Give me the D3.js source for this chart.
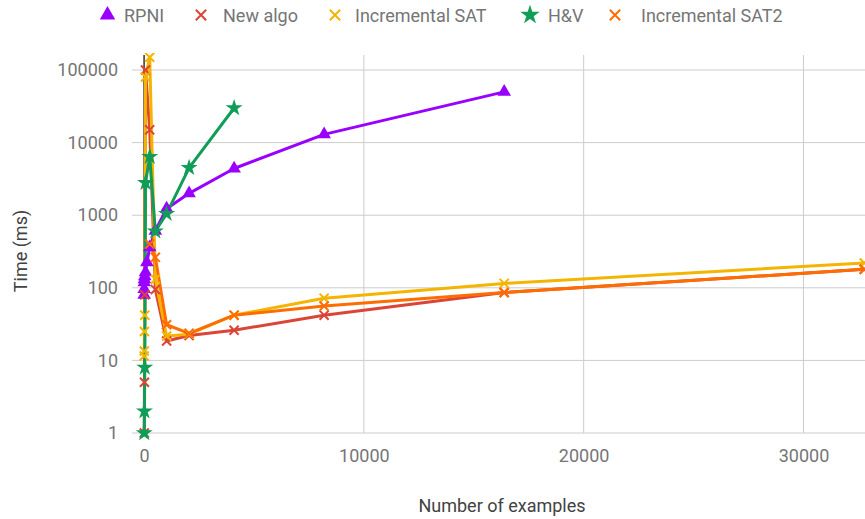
<!DOCTYPE html>
<html>
<head>
<meta charset="utf-8">
<script src="https://cdn.jsdelivr.net/npm/d3@7"></script>
<style>
  html, body { margin: 0; padding: 0; background: #fff; }
  svg { display: block; font-family: Roboto, "Noto Sans", sans-serif; }
</style>
</head>
<body>
<svg id="chart" width="865" height="519"></svg>
<script>
// Number of examples (shared x values for every series)
const examples = [1, 2, 4, 8, 16, 32, 64, 128, 256, 512, 1024, 2048, 4096, 8192, 16384, 32768];

// Time in ms per algorithm; null = no measurement at that size
const rpni         = [null, 80, 96, 119, 131, 144, 163, 224, 361, 610, 1230, 2000, 4400, 13000, 50000, null];
const newAlgo      = [null, null, null, 1, 5, 80, 100000, null, 15000, 95, 18.5, 22, 26, 42, 86, 180];
const incSat       = [null, null, 11.5, 13.5, 25, 42, 80000, null, 150000, 131, 21.7, 23, 42, 72, 115, 220];
const hv           = [null, null, null, 1, 2, 8, 2800, null, 6400, 600, 1050, 4500, 30000, null, null, null];
const incSat2      = [null, null, null, null, null, null, null, null, 400, 263, 31, 23.6, 42, 56, 86, 180];

const seriesNames  = ["RPNI", "New algo", "Incremental SAT", "H&V", "Incremental SAT2"];
const seriesValues = [rpni, newAlgo, incSat, hv, incSat2];
const seriesColors = ["#9900ff", "#db4437", "#f4b400", "#0f9d58", "#ff6d00"];
const seriesShapes = ["triangle", "x", "x", "star", "x"];

const xTicks = [0, 10000, 20000, 30000];
const yTicks = [1, 10, 100, 1000, 10000, 100000];

const svg = d3.select("#chart");
const plotTop = 55, plotBottom = 433, plotLeft = 132, plotRight = 865;
const fontSize = 18;

const x = d3.scaleLinear().domain([-550, 32800]).range([plotLeft, plotRight]);
const y = d3.scaleLog().domain([1, 161000]).range([plotBottom, plotTop]);

// gridlines
const grid = svg.append("g");
grid.selectAll("line.h").data(yTicks).join("line")
  .attr("x1", plotLeft).attr("x2", plotRight)
  .attr("y1", d => y(d)).attr("y2", d => y(d))
  .attr("stroke", "#cccccc").attr("stroke-width", 1);
grid.selectAll("line.v").data(xTicks.filter(d => d !== 0)).join("line")
  .attr("x1", d => x(d)).attr("x2", d => x(d))
  .attr("y1", plotTop).attr("y2", plotBottom)
  .attr("stroke", "#cccccc").attr("stroke-width", 1);
// baseline at x = 0
grid.append("line")
  .attr("x1", x(0)).attr("x2", x(0)).attr("y1", plotTop).attr("y2", plotBottom)
  .attr("stroke", "#333333").attr("stroke-width", 1.5);

// axis labels (axis lines hidden, labels kept)
const yAxis = svg.append("g").attr("transform", `translate(${plotLeft - 11},0)`)
  .call(d3.axisLeft(y).tickValues(yTicks).tickFormat(d3.format("d")).tickSize(0));
const xAxis = svg.append("g").attr("transform", `translate(0,${plotBottom + 13})`)
  .call(d3.axisBottom(x).tickValues(xTicks).tickFormat(d3.format("d")).tickSize(0));
[yAxis, xAxis].forEach(a => {
  a.select(".domain").remove();
  a.selectAll("text").attr("fill", "#757575").attr("font-size", fontSize)
    .attr("font-family", "Roboto, sans-serif");
});
xAxis.selectAll("text").attr("dy", "0.71em");

svg.append("text")
  .attr("transform", `translate(27,${(plotTop + plotBottom) / 2 + 7}) rotate(-90)`)
  .attr("text-anchor", "middle").attr("fill", "#424242").attr("font-size", fontSize)
  .text("Time (ms)");
svg.append("text")
  .attr("x", 502).attr("y", 512)
  .attr("text-anchor", "middle").attr("fill", "#424242").attr("font-size", fontSize)
  .text("Number of examples");

// clip to plot area
svg.append("clipPath").attr("id", "plot")
  .append("rect").attr("x", plotLeft).attr("y", plotTop - 2)
  .attr("width", plotRight - plotLeft).attr("height", plotBottom - plotTop + 10);

const symbolFor = s => s === "triangle" ? d3.symbolTriangle : s === "star" ? d3.symbolStar : d3.symbolX;
const sizeFor = s => s === "triangle" ? 80 : s === "star" ? 90 : 55;

function drawMarker(g, shape, color, cx, cy, scale = 1) {
  const p = g.append("path")
    .attr("d", d3.symbol(symbolFor(shape), sizeFor(shape) * scale)())
    .attr("transform", `translate(${cx},${cy})`);
  if (shape === "x") {
    p.attr("fill", "none").attr("stroke", color).attr("stroke-width", 2);
  } else {
    p.attr("fill", color).attr("stroke", "none");
  }
}

const plot = svg.append("g").attr("clip-path", "url(#plot)");
const line = d3.line().x(d => x(d[0])).y(d => y(d[1]));

const seriesPoints = seriesValues.map(vals =>
  examples.map((e, i) => [e, vals[i]]).filter(d => d[1] != null));

seriesPoints.forEach((pts, i) => {
  plot.append("path").datum(pts)
    .attr("d", line)
    .attr("fill", "none")
    .attr("stroke", seriesColors[i])
    .attr("stroke-width", 3)
    .attr("stroke-linejoin", "round");
});
seriesPoints.forEach((pts, i) => {
  const g = plot.append("g");
  pts.forEach(d => drawMarker(g, seriesShapes[i], seriesColors[i], x(d[0]), y(d[1])));
});

// legend
const legendMarkerX = [107.5, 201, 335, 530, 615];
const legendTextX = [124, 223, 355, 548, 641];
const legend = svg.append("g");
seriesNames.forEach((name, i) => {
  drawMarker(legend, seriesShapes[i], seriesColors[i], legendMarkerX[i], 15, 1.3);
  legend.append("text")
    .attr("x", legendTextX[i]).attr("y", 22)
    .attr("fill", "#757575").attr("font-size", fontSize)
    .text(name);
});
</script>
</body>
</html>
